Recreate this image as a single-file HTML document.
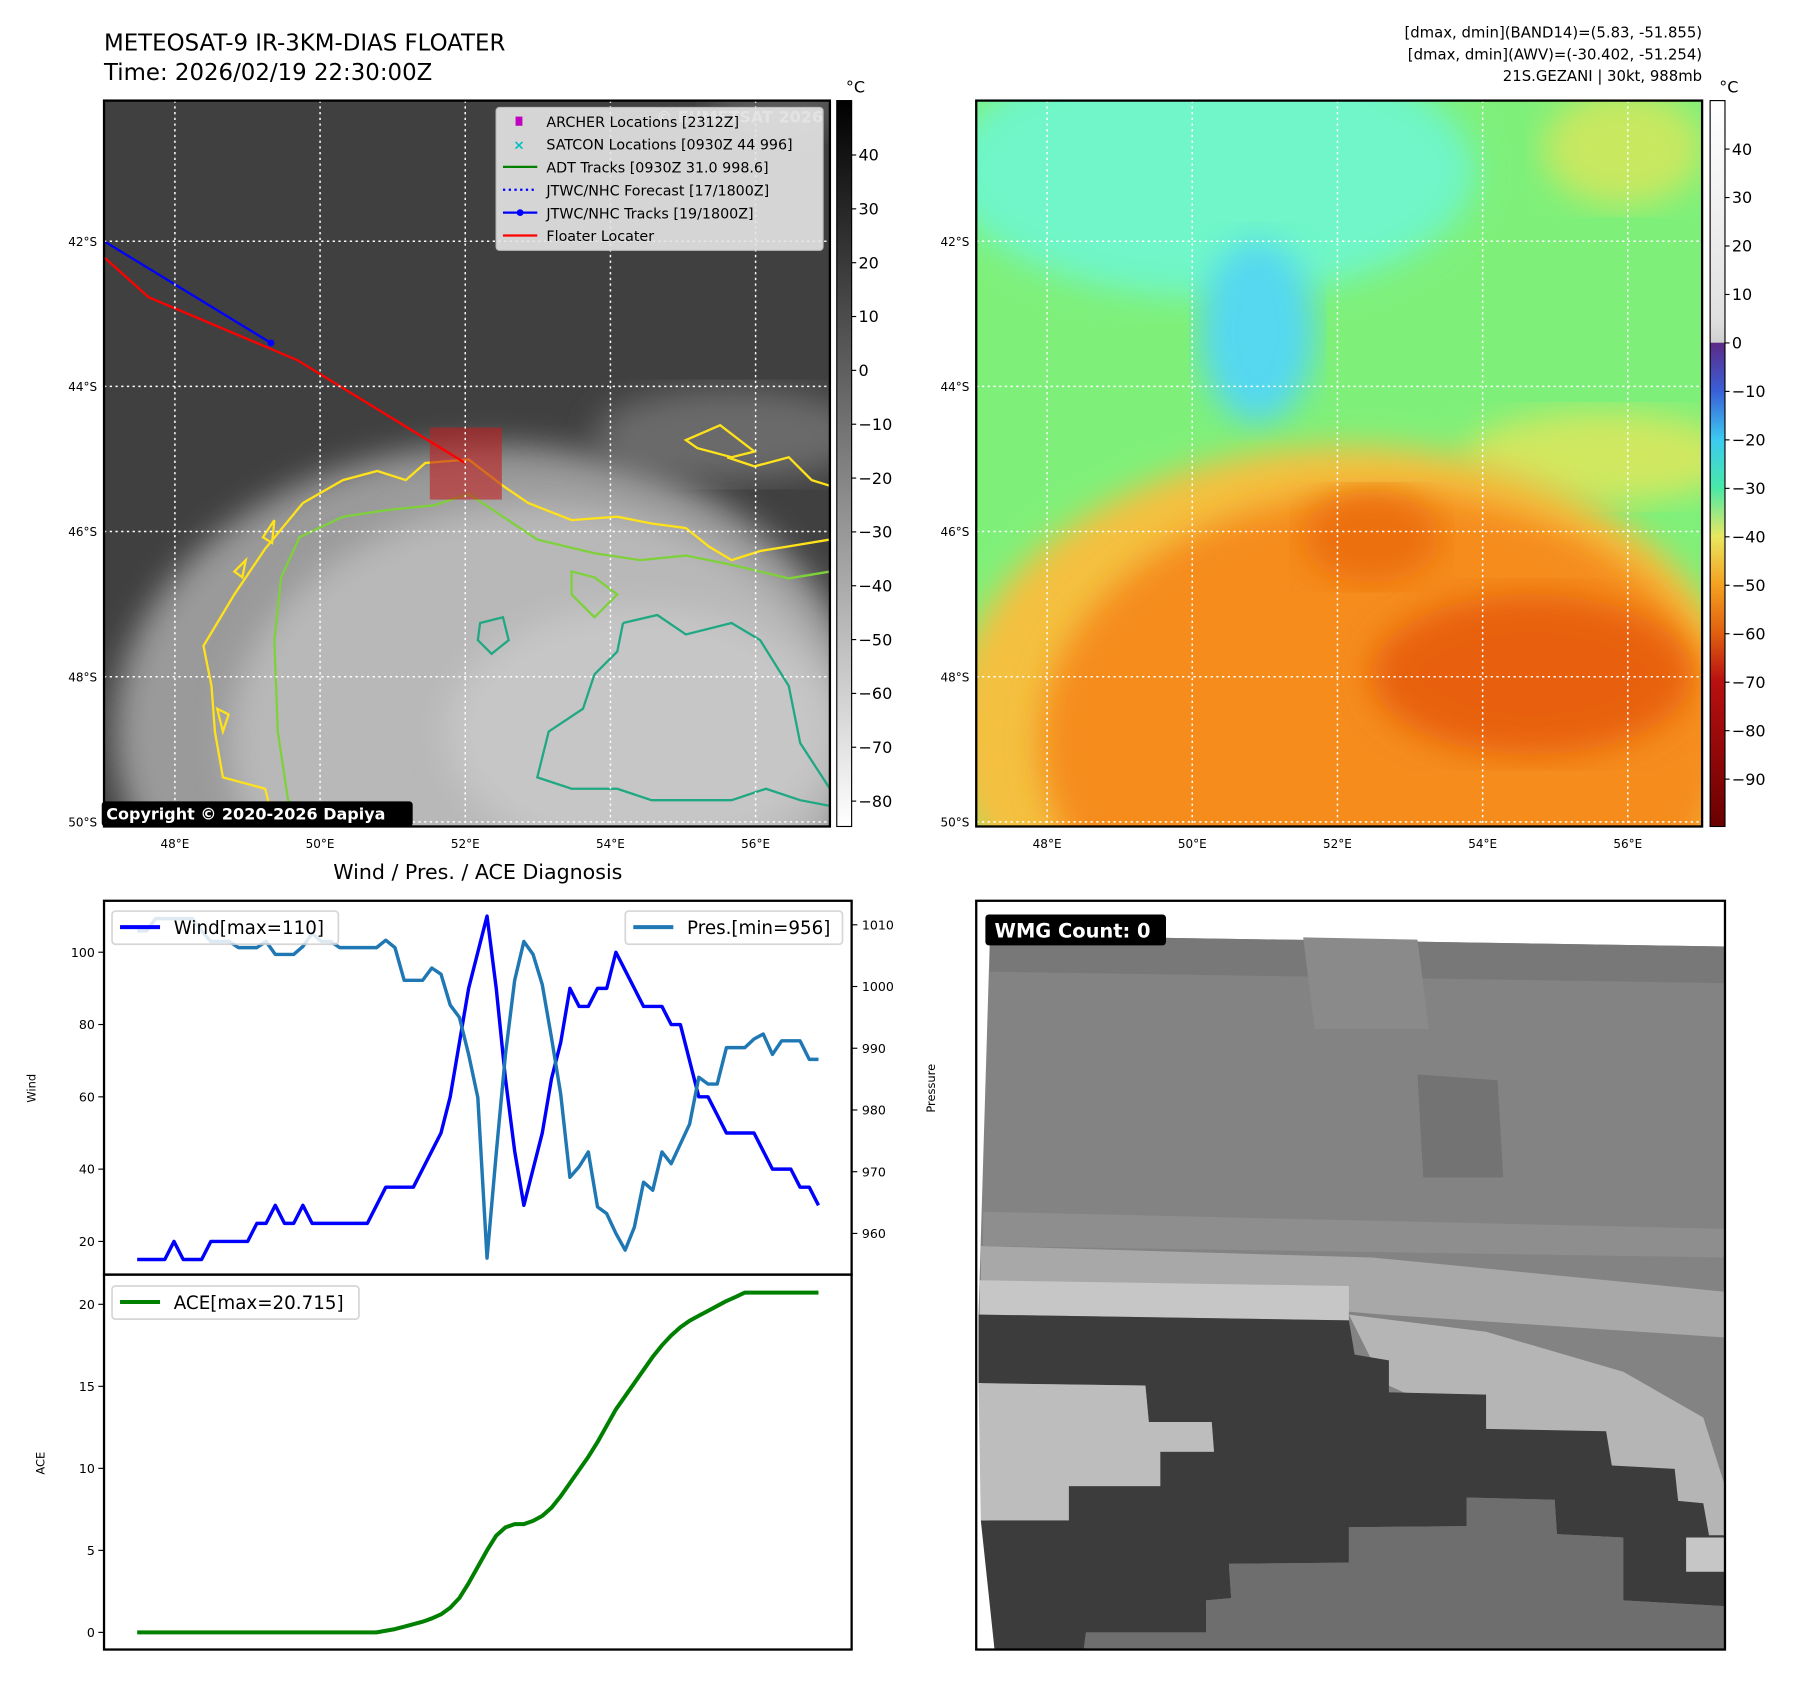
<!DOCTYPE html>
<html><head><meta charset="utf-8"><style>
html,body{margin:0;padding:0;background:#fff;}
svg{display:block;font-family:"DejaVu Sans","Liberation Sans",sans-serif;}
</style></head><body>
<svg id="root" width="1797" height="1690" viewBox="0 0 1572 1478.4" xmlns="http://www.w3.org/2000/svg">
<defs>
<filter id="blur8"><feGaussianBlur stdDeviation="14"/></filter>
<filter id="blur4"><feGaussianBlur stdDeviation="6"/></filter>
<clipPath id="clipL"><rect x="91" y="88" width="635" height="635"/></clipPath>
<clipPath id="clipR"><rect x="854" y="88" width="635" height="635"/></clipPath>
<clipPath id="clipW"><rect x="91" y="788" width="654" height="655"/></clipPath>
<linearGradient id="cbGray" x1="0" y1="0" x2="0" y2="1"><stop offset="0" stop-color="#000"/><stop offset="1" stop-color="#fff"/></linearGradient>
<linearGradient id="cbColor" x1="0" y1="0" x2="0" y2="1">
<stop offset="0" stop-color="#ffffff"/><stop offset="0.3" stop-color="#e0e0e0"/><stop offset="0.333" stop-color="#d0d0d0"/>
<stop offset="0.334" stop-color="#5b2a86"/><stop offset="0.4" stop-color="#3a5fd8"/><stop offset="0.467" stop-color="#3ccaf0"/>
<stop offset="0.533" stop-color="#48e8a8"/><stop offset="0.6" stop-color="#e8e860"/><stop offset="0.667" stop-color="#f5a020"/>
<stop offset="0.733" stop-color="#e06010"/><stop offset="0.8" stop-color="#b81010"/><stop offset="1" stop-color="#6a0000"/></linearGradient>
</defs>

<text x="91" y="44" font-size="20">METEOSAT-9 IR-3KM-DIAS FLOATER</text>
<text x="91" y="70" font-size="20">Time: 2026/02/19 22:30:00Z</text>
<g font-size="13" text-anchor="end">
<text x="1489" y="33">[dmax, dmin](BAND14)=(5.83, -51.855)</text>
<text x="1489" y="52">[dmax, dmin](AWV)=(-30.402, -51.254)</text>
<text x="1489" y="71">21S.GEZANI | 30kt, 988mb</text>
</g>

<!-- LEFT MAP -->
<g>
<g clip-path="url(#clipL)">
<rect x="91" y="88" width="635" height="635" fill="#404040"/>
<ellipse cx="640" cy="380" rx="120" ry="40" fill="#6a6a6a" filter="url(#blur8)"/>
<ellipse cx="680" cy="90" rx="60" ry="30" fill="#5a5a5a" filter="url(#blur8)"/>
<ellipse cx="430" cy="640" rx="330" ry="250" fill="#9a9a9a" filter="url(#blur8)"/>
<ellipse cx="470" cy="650" rx="270" ry="210" fill="#b8b8b8" filter="url(#blur8)"/>
<ellipse cx="560" cy="640" rx="170" ry="110" fill="#c6c6c6" filter="url(#blur8)"/>
<g fill="none" stroke-width="2">
<path d="M240,723 L232,690 L195,680 L188,640 L185,600 L178,565 L205,520 L232,480 L265,440 L300,420 L330,412 L355,420 L372,405 L410,402 L440,425 L462,440 L500,455 L540,452 L570,458 L600,462 L620,478 L640,490 L665,482 L690,478 L726,472" stroke="#ffe21a"/>
<path d="M600,385 L630,372 L660,395 L640,400 L610,392 Z M636,400 L660,408 L690,400 L710,420 L726,425" stroke="#ffe21a"/>
<path d="M205,500 L215,490 L212,505 Z M230,470 L240,455 L238,475 Z M190,620 L200,625 L195,640 Z" stroke="#ffe21a"/>
<path d="M270,723 L252,700 L243,640 L240,560 L246,505 L262,470 L300,452 L340,446 L380,442 L410,432 L440,452 L470,472 L520,484 L560,490 L600,486 L640,494 L690,506 L726,500" stroke="#7ed13a"/>
<path d="M500,500 L520,505 L540,520 L520,540 L500,520 Z" stroke="#7ed13a"/>
<path d="M545,545 L575,538 L600,555 L640,545 L665,560 L690,600 L700,650 L726,690 M520,590 L510,620 L480,640 L470,680 L500,690 L540,690 L570,700 L600,700 L640,700 L670,690 L700,700 L726,705 M545,545 L540,570 L520,590" stroke="#1fa882"/>
<path d="M420,545 L440,540 L445,560 L430,572 L418,560 Z" stroke="#1fa882"/>
</g>
<rect x="376" y="374" width="63" height="63" fill="#c02020" opacity="0.6"/>
<polyline points="91,225 130,260 260,315 407,405" fill="none" stroke="#ff0000" stroke-width="2"/>
<polyline points="91,211 237,300" fill="none" stroke="#0000ff" stroke-width="2"/>
<circle cx="237" cy="300" r="3" fill="#0000ff"/>
<g stroke="#fff" stroke-width="1.3" stroke-dasharray="2,3">
<line x1="153" y1="88" x2="153" y2="723"/><line x1="280" y1="88" x2="280" y2="723"/><line x1="407" y1="88" x2="407" y2="723"/><line x1="534" y1="88" x2="534" y2="723"/><line x1="661" y1="88" x2="661" y2="723"/>
<line x1="91" y1="211" x2="726" y2="211"/><line x1="91" y1="338" x2="726" y2="338"/><line x1="91" y1="465" x2="726" y2="465"/><line x1="91" y1="592" x2="726" y2="592"/><line x1="91" y1="719" x2="726" y2="719"/>
</g>
<text x="720" y="107" font-size="14" font-weight="bold" fill="#e8e8e8" text-anchor="end" opacity="0.8">© EUMETSAT 2026</text>
</g>
<rect x="91" y="88" width="635" height="635" fill="none" stroke="#000" stroke-width="2"/>
<g>
<rect x="434" y="94" width="286" height="125" rx="3" fill="#e6e6e6" opacity="0.9" stroke="#ccc"/>
<g font-size="12.5">
<rect x="451" y="102" width="6" height="8" fill="#c000c0"/><text x="478" y="111">ARCHER Locations [2312Z]</text>
<text x="449" y="131" fill="#00c0c0" font-weight="bold" font-size="12">×</text><text x="478" y="131">SATCON Locations [0930Z 44 996]</text>
<line x1="440" y1="146" x2="470" y2="146" stroke="#008000" stroke-width="2"/><text x="478" y="151">ADT Tracks [0930Z 31.0 998.6]</text>
<line x1="440" y1="166" x2="470" y2="166" stroke="#0000ff" stroke-width="2" stroke-dasharray="2,3"/><text x="478" y="171">JTWC/NHC Forecast [17/1800Z]</text>
<line x1="440" y1="186" x2="470" y2="186" stroke="#0000ff" stroke-width="2"/><circle cx="455" cy="186" r="3" fill="#0000ff"/><text x="478" y="191">JTWC/NHC Tracks [19/1800Z]</text>
<line x1="440" y1="206" x2="470" y2="206" stroke="#ff0000" stroke-width="2"/><text x="478" y="211">Floater Locater</text>
</g></g>
<rect x="89" y="701" width="272" height="22" rx="3" fill="#000"/>
<text x="93" y="717" font-size="14" font-weight="bold" fill="#fff">Copyright © 2020-2026 Dapiya</text>
</g>

<g font-size="10.5">
<g text-anchor="middle"><text x="153" y="742">48°E</text><text x="280" y="742">50°E</text><text x="407" y="742">52°E</text><text x="534" y="742">54°E</text><text x="661" y="742">56°E</text>
<text x="916" y="742">48°E</text><text x="1043" y="742">50°E</text><text x="1170" y="742">52°E</text><text x="1297" y="742">54°E</text><text x="1424" y="742">56°E</text></g>
<g text-anchor="end"><text x="85" y="215">42°S</text><text x="85" y="342">44°S</text><text x="85" y="469">46°S</text><text x="85" y="596">48°S</text><text x="85" y="723">50°S</text>
<text x="848" y="215">42°S</text><text x="848" y="342">44°S</text><text x="848" y="469">46°S</text><text x="848" y="596">48°S</text><text x="848" y="723">50°S</text></g>
</g>

<!-- left colorbar -->
<g>
<rect x="732" y="88" width="13" height="635" fill="url(#cbGray)" stroke="#000" stroke-width="1"/>
<text x="740" y="81" font-size="14">°C</text>
<g font-size="14" id="cbL"></g>
</g>

<!-- RIGHT MAP -->
<g>
<g clip-path="url(#clipR)">
<rect x="854" y="88" width="635" height="635" fill="#7ef07a"/>
<ellipse cx="1060" cy="150" rx="230" ry="110" fill="#6ff6c8" filter="url(#blur8)"/>
<ellipse cx="1100" cy="290" rx="50" ry="80" fill="#55d8f0" filter="url(#blur8)"/>
<ellipse cx="1420" cy="130" rx="70" ry="50" fill="#c8e860" filter="url(#blur8)"/>
<ellipse cx="1400" cy="400" rx="120" ry="40" fill="#d0e860" filter="url(#blur8)"/>
<ellipse cx="1180" cy="640" rx="350" ry="250" fill="#f4c040" filter="url(#blur8)"/>
<ellipse cx="1210" cy="650" rx="300" ry="220" fill="#f58c1c" filter="url(#blur8)"/>
<ellipse cx="1340" cy="590" rx="140" ry="70" fill="#e8600c" filter="url(#blur8)"/>
<ellipse cx="1200" cy="470" rx="60" ry="40" fill="#ec700e" filter="url(#blur8)"/>
<g stroke="#fff" stroke-width="1.3" stroke-dasharray="2,3">
<line x1="916" y1="88" x2="916" y2="723"/><line x1="1043" y1="88" x2="1043" y2="723"/><line x1="1170" y1="88" x2="1170" y2="723"/><line x1="1297" y1="88" x2="1297" y2="723"/><line x1="1424" y1="88" x2="1424" y2="723"/>
<line x1="854" y1="211" x2="1489" y2="211"/><line x1="854" y1="338" x2="1489" y2="338"/><line x1="854" y1="465" x2="1489" y2="465"/><line x1="854" y1="592" x2="1489" y2="592"/><line x1="854" y1="719" x2="1489" y2="719"/>
</g>
</g>
<rect x="854" y="88" width="635" height="635" fill="none" stroke="#000" stroke-width="2"/>
</g>
<g>
<rect x="1496" y="88" width="13" height="635" fill="url(#cbColor)" stroke="#000" stroke-width="1"/>
<text x="1504" y="81" font-size="14">°C</text>
<g font-size="14" id="cbR"></g>
</g>

<!-- WIND / PRES CHART -->
<text x="418" y="769" font-size="18" text-anchor="middle">Wind / Pres. / ACE Diagnosis</text>
<g id="chart"></g>

<!-- WMG panel -->
<g>
<rect x="854" y="788" width="655" height="655" fill="#fff"/>
<polygon points="866,818 1509,828 1509,1443 870,1443 856,1150" fill="#838383"/>
<polygon points="866,818 1509,828 1509,860 866,850" fill="#787878"/>
<polygon points="1140,820 1240,822 1250,900 1150,900" fill="#8a8a8a"/>
<polygon points="1240,940 1310,945 1315,1030 1245,1030" fill="#737373"/>
<polygon points="860,1060 1509,1075 1509,1100 860,1090" fill="#8e8e8e"/>
<polygon points="858,1090 1200,1100 1509,1130 1509,1170 1210,1150 858,1120" fill="#a8a8a8"/>
<polygon points="857,1120 1180,1125 1180,1155 857,1150" fill="#c6c6c6"/>
<polygon points="1180,1150 1300,1165 1420,1200 1490,1240 1509,1300 1509,1380 1460,1340 1300,1250 1210,1210" fill="#b5b5b5"/>
<polygon points="856,1150 1180,1155 1185,1185 1215,1190 1215,1218 1300,1220 1300,1250 1405,1252 1410,1282 1465,1285 1468,1313 1490,1315 1495,1343 1509,1343 1509,1405 1420,1400 1420,1345 1362,1342 1360,1312 1283,1310 1283,1335 1180,1336 1180,1367 1075,1368 1077,1398 1055,1400 1055,1428 950,1428 948,1443 870,1443 858,1330 935,1330 935,1300 1015,1300 1015,1270 1062,1270 1060,1244 1005,1244 1002,1212 856,1210" fill="#3c3c3c"/>
<polygon points="856,1210 1002,1212 1005,1244 1060,1244 1062,1270 1015,1270 1015,1300 935,1300 935,1330 858,1330" fill="#bdbdbd"/>
<polygon points="948,1443 950,1428 1055,1428 1055,1400 1077,1398 1075,1368 1180,1367 1180,1336 1283,1335 1283,1310 1360,1312 1362,1342 1420,1345 1420,1400 1509,1405 1509,1443" fill="#6e6e6e"/>
<polygon points="1475,1345 1509,1345 1509,1375 1475,1375" fill="#c6c6c6"/>
<rect x="854" y="788" width="655" height="655" fill="none" stroke="#000" stroke-width="2"/>
<rect x="862" y="800" width="158" height="27" rx="3" fill="#000"/>
<text x="870" y="820" font-size="17" font-weight="bold" fill="#fff">WMG Count: 0</text>
</g>

<script>
const windValues=[15,15,15,15,20,15,15,15,20,20,20,20,20,25,25,30,25,25,30,25,25,25,25,25,25,25,30,35,35,35,35,40,45,50,60,75,90,100,110,90,65,45,30,40,50,65,75,90,85,85,90,90,100,95,90,85,85,85,80,80,70,60,60,55,50,50,50,50,45,40,40,40,35,35,30];
const presValues=[1009,1009,1011,1011,1011,1011,1011,1009,1007.3,1007.3,1007.3,1006.3,1006.3,1006.3,1007.3,1005.2,1005.2,1005.2,1006.5,1008.6,1007.3,1007.3,1006.3,1006.3,1006.3,1006.3,1006.3,1007.5,1006.3,1001,1001,1001,1003,1002,997,995,989,982,956,973,989,1001,1007.3,1005.2,1000.3,991.7,982.6,969.1,970.8,973.2,964.3,963.2,960,957.3,961,968.3,967,973.2,971.3,974.5,977.7,985.3,984.2,984.2,990.1,990.1,990.1,991.5,992.3,989,991.2,991.2,991.2,988.2,988.2];
const aceValues=[0,0,0,0,0,0,0,0,0,0,0,0,0,0,0,0,0,0,0,0,0,0,0,0,0,0,0,0.1,0.2,0.35,0.5,0.65,0.85,1.1,1.5,2.1,3.0,4.0,5.0,5.9,6.4,6.6,6.6,6.8,7.1,7.6,8.3,9.1,9.9,10.7,11.6,12.6,13.6,14.4,15.2,16.0,16.8,17.5,18.1,18.6,19.0,19.3,19.6,19.9,20.2,20.45,20.715,20.715,20.715,20.715,20.715,20.715,20.715,20.715,20.715];
const windTicks=[20,40,60,80,100];
const presTicks=[960,970,980,990,1000,1010];
const aceTicks=[0,5,10,15,20];
const cbLTicks=[40,30,20,10,0,-10,-20,-30,-40,-50,-60,-70,-80];
const cbRTicks=[40,30,20,10,0,-10,-20,-30,-40,-50,-60,-70,-80,-90];

const NS="http://www.w3.org/2000/svg";
function mk(tag,attrs,parent){const e=document.createElementNS(NS,tag);for(const k in attrs)e.setAttribute(k,attrs[k]);parent.appendChild(e);return e;}
const xS=i=>120+i*(716-120)/(windValues.length-1);
const yW=v=>833-(v-100)*63.25/20;
const yP=p=>809-(p-1010)*5.4;
const yA=v=>1428-v*14.35;
const cbLY=v=>324-v*4.71;
const cbRY=v=>300-v*4.24;

const cbL=document.getElementById('cbL');
cbLTicks.forEach(v=>{mk('line',{x1:745,x2:749,y1:cbLY(v),y2:cbLY(v),stroke:'#000'},cbL);const t=mk('text',{x:751,y:cbLY(v)+5},cbL);t.textContent=v<0?'\u2212'+(-v):v;});
const cbR=document.getElementById('cbR');
cbRTicks.forEach(v=>{mk('line',{x1:1509,x2:1513,y1:cbRY(v),y2:cbRY(v),stroke:'#000'},cbR);const t=mk('text',{x:1515,y:cbRY(v)+5},cbR);t.textContent=v<0?'\u2212'+(-v):v;});

const g=document.getElementById('chart');
mk('rect',{x:91,y:788,width:654,height:327,fill:'none',stroke:'#000','stroke-width':2},g);
mk('rect',{x:91,y:1115,width:654,height:328,fill:'none',stroke:'#000','stroke-width':2},g);
windTicks.forEach(v=>{mk('line',{x1:86,x2:91,y1:yW(v),y2:yW(v),stroke:'#000'},g);const t=mk('text',{x:83,y:yW(v)+4,'font-size':11,'text-anchor':'end'},g);t.textContent=v;});
presTicks.forEach(v=>{mk('line',{x1:745,x2:750,y1:yP(v),y2:yP(v),stroke:'#000'},g);const t=mk('text',{x:754,y:yP(v)+4,'font-size':11},g);t.textContent=v;});
aceTicks.forEach(v=>{mk('line',{x1:86,x2:91,y1:yA(v),y2:yA(v),stroke:'#000'},g);const t=mk('text',{x:83,y:yA(v)+4,'font-size':11,'text-anchor':'end'},g);t.textContent=v;});
let t=mk('text',{x:31,y:952,'font-size':10,'text-anchor':'middle',transform:'rotate(-90 31 952)'},g);t.textContent='Wind';
t=mk('text',{x:818,y:952,'font-size':10,'text-anchor':'middle',transform:'rotate(-90 818 952)'},g);t.textContent='Pressure';
t=mk('text',{x:39,y:1280,'font-size':10,'text-anchor':'middle',transform:'rotate(-90 39 1280)'},g);t.textContent='ACE';

const wl=mk('polyline',{points:windValues.map((v,i)=>xS(i)+','+yW(v)).join(' '),fill:'none',stroke:'#0000ff','stroke-width':3,'stroke-linejoin':'round'},g);


const pl=mk('polyline',{points:presValues.map((v,i)=>xS(i)+','+yP(v)).join(' '),fill:'none',stroke:'#1f77b4','stroke-width':3,'stroke-linejoin':'round'},g);


const al=mk('polyline',{points:aceValues.map((v,i)=>xS(i)+','+yA(v)).join(' '),fill:'none',stroke:'#008000','stroke-width':3.5,'stroke-linejoin':'round'},g);



function legend(x,y,w,color,label,name){
  const lg=mk('g',{},g);
  
  
  mk('rect',{x:x,y:y,width:w,height:29,rx:3,fill:'#fff',opacity:0.85,stroke:'#d0d0d0','stroke-width':1.5},lg);
  mk('line',{x1:x+7,x2:x+42,y1:y+14,y2:y+14,stroke:color,'stroke-width':3.5},lg);
  const tt=mk('text',{x:x+54,y:y+20,'font-size':16},lg);tt.textContent=label;
}
legend(98,797,198,'#0000ff','Wind[max=110]','wind-legend');
legend(547,797,190,'#1f77b4','Pres.[min=956]','pressure-legend');
legend(98,1125,216,'#008000','ACE[max=20.715]','ace-legend');
</script>
</svg>
</body></html>
